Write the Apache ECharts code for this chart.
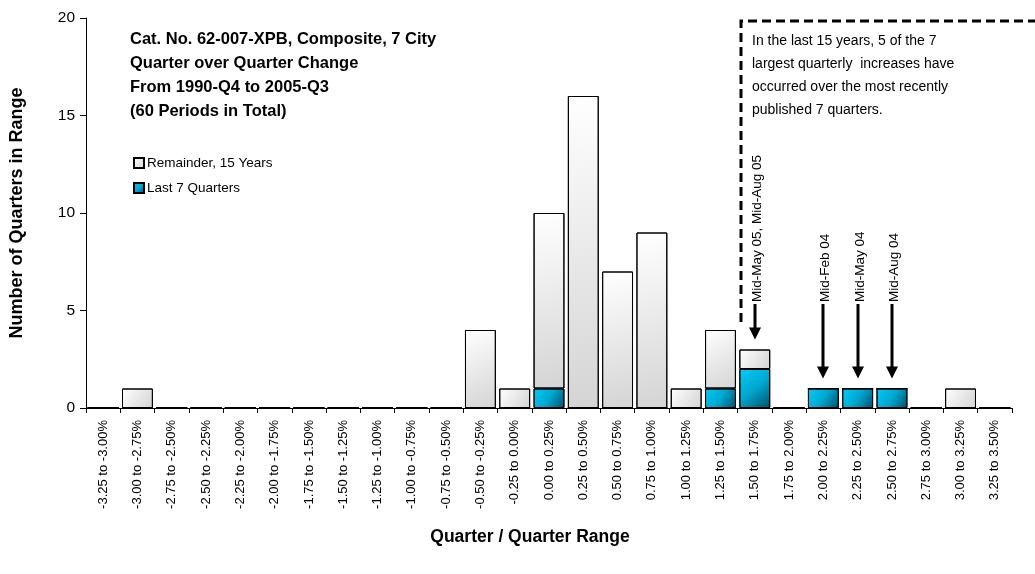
<!DOCTYPE html>
<html>
<head>
<meta charset="utf-8">
<script src="https://cdn.jsdelivr.net/npm/echarts@6/dist/echarts.min.js"></script>
<style>
  html, body { margin: 0; padding: 0; background: #fff; }
  #chart { width: 1035px; height: 574px; }
</style>
</head>
<body>
<div id="chart"></div>
<script>
// Quarter-over-quarter change ranges (x axis categories)
const categories = [
  '-3.25 to -3.00%', '-3.00 to -2.75%', '-2.75 to -2.50%', '-2.50 to -2.25%',
  '-2.25 to -2.00%', '-2.00 to -1.75%', '-1.75 to -1.50%', '-1.50 to -1.25%',
  '-1.25 to -1.00%', '-1.00 to -0.75%', '-0.75 to -0.50%', '-0.50 to -0.25%',
  '-0.25 to 0.00%', '0.00 to 0.25%', '0.25 to 0.50%', '0.50 to 0.75%',
  '0.75 to 1.00%', '1.00 to 1.25%', '1.25 to 1.50%', '1.50 to 1.75%',
  '1.75 to 2.00%', '2.00 to 2.25%', '2.25 to 2.50%', '2.50 to 2.75%',
  '2.75 to 3.00%', '3.00 to 3.25%', '3.25 to 3.50%'
];

// Quarters falling in each range over the most recent 7 quarters
const last7Quarters = [0,0,0,0,0,0,0,0,0,0,0,0,0,1,0,0,0,0,1,2,0,1,1,1,0,0,0];

// Quarters falling in each range over the rest of the 15 years
const remainder15Years = [0,1,0,0,0,0,0,0,0,0,0,4,1,9,16,7,9,1,3,1,0,0,0,0,0,1,0];

// y axis ticks
const yTicks = [0, 5, 10, 15, 20];

// Arrow callouts: category the arrow points at, and its label
const callouts = [
  { category: '1.50 to 1.75%', label: 'Mid-May 05, Mid-Aug 05' },
  { category: '2.00 to 2.25%', label: 'Mid-Feb 04' },
  { category: '2.25 to 2.50%', label: 'Mid-May 04' },
  { category: '2.50 to 2.75%', label: 'Mid-Aug 04' }
];

const titleLines = [
  'Cat. No. 62-007-XPB, Composite, 7 City',
  'Quarter over Quarter Change',
  'From 1990-Q4 to 2005-Q3',
  '(60 Periods in Total)'
];

const noteLines = [
  'In the last 15 years, 5 of the 7',
  'largest quarterly  increases have',
  'occurred over the most recently',
  'published 7 quarters.'
];

const xAxisTitle = 'Quarter / Quarter Range';

const FONT = '"Liberation Sans", Arial, sans-serif';

const grayFill = new echarts.graphic.LinearGradient(0, 0, 1, 1, [
  { offset: 0, color: '#ffffff' },
  { offset: 1, color: '#d4d4d4' }
]);
const blueFill = new echarts.graphic.LinearGradient(0, 0, 1, 1, [
  { offset: 0, color: '#00ccf8' },
  { offset: 0.5, color: '#00a8d0' },
  { offset: 1, color: '#00506c' }
]);

const chart = echarts.init(document.getElementById('chart'), null, { renderer: 'canvas' });

const option = {
  animation: false,
  backgroundColor: '#ffffff',
  textStyle: { fontFamily: FONT },
  grid: { left: 86, right: 23, top: 18, bottom: 166, containLabel: false },
  legend: {
    orient: 'vertical',
    left: 128,
    top: 151,
    itemWidth: 10,
    itemHeight: 10,
    itemGap: 11,
    icon: 'rect',
    data: ['Remainder, 15 Years', 'Last 7 Quarters'],
    textStyle: { fontFamily: FONT, fontSize: 13.5, color: '#000', padding: [0, 0, 0, -2] }
  },
  xAxis: {
    type: 'category',
    data: categories,
    axisLine: { lineStyle: { color: '#000', width: 1 } },
    axisTick: { show: true, alignWithLabel: false, length: 5, lineStyle: { color: '#000' } },
    axisLabel: {
      rotate: 90,
      interval: 0,
      margin: 12,
      fontFamily: FONT,
      fontSize: 13,
      color: '#000'
    }
  },
  yAxis: {
    type: 'value',
    min: yTicks[0],
    max: yTicks[yTicks.length - 1],
    interval: yTicks[1] - yTicks[0],
    name: 'Number of Quarters in Range',
    nameLocation: 'middle',
    nameGap: 60,
    nameTextStyle: { fontFamily: FONT, fontSize: 18, fontWeight: 'bold', color: '#000', padding: [0, 0, 0, 0] },
    axisLine: { show: true, lineStyle: { color: '#000', width: 1 } },
    axisTick: { show: true, length: 6, lineStyle: { color: '#000' } },
    splitLine: { show: false },
    axisLabel: { fontFamily: FONT, fontSize: 15.5, color: '#000', margin: 11 }
  },
  series: [
    {
      name: 'Last 7 Quarters',
      type: 'bar',
      stack: 'total',
      data: last7Quarters,
      barCategoryGap: '10%',
      itemStyle: { color: blueFill, borderColor: '#000', borderWidth: 1 }
    },
    {
      name: 'Remainder, 15 Years',
      type: 'bar',
      stack: 'total',
      data: remainder15Years,
      barCategoryGap: '10%',
      itemStyle: { color: grayFill, borderColor: '#000', borderWidth: 1 }
    }
  ]
};

chart.setOption(option);

// Annotations placed using the chart's own scales
const graphics = [];

titleLines.forEach((t, i) => {
  graphics.push({
    type: 'text', left: 130, top: 31 + i * 24,
    style: { text: t, font: 'bold 16.5px ' + FONT, fill: '#000' }
  });
});

// x axis title
graphics.push({
  type: 'text', x: 530, y: 537,
  style: {
    text: xAxisTitle, font: 'bold 17.5px ' + FONT, fill: '#000',
    textAlign: 'center', textVerticalAlign: 'middle'
  }
});

noteLines.forEach((t, i) => {
  graphics.push({
    type: 'text', left: 752, top: 34 + i * 23,
    style: { text: t, font: '14px ' + FONT, fill: '#000' }
  });
});

// dashed box around the note (top and left edges)
graphics.push({
  type: 'polyline',
  shape: { points: [[741, 322], [741, 21], [1035, 21]] },
  style: { stroke: '#000', lineWidth: 3, lineDash: [9, 5], fill: null }
});

callouts.forEach(c => {
  const idx = categories.indexOf(c.category);
  const total = last7Quarters[idx] + remainder15Years[idx];
  const top = chart.convertToPixel({ gridIndex: 0 }, [idx, total]);
  const x = Math.round(top[0]);
  const tipY = top[1] - 10;
  const startY = 304;
  graphics.push({
    type: 'line',
    shape: { x1: x, y1: startY, x2: x, y2: tipY - 10 },
    style: { stroke: '#000', lineWidth: 3 }
  });
  graphics.push({
    type: 'polygon',
    shape: { points: [[x - 6, tipY - 12], [x + 6, tipY - 12], [x, tipY]] },
    style: { fill: '#000' }
  });
  graphics.push({
    type: 'text',
    x: x + 2, y: startY - 2,
    rotation: Math.PI / 2,
    style: {
      text: c.label, font: '13.5px ' + FONT, fill: '#000',
      textAlign: 'left', textVerticalAlign: 'middle'
    }
  });
});

chart.setOption({ graphic: graphics });
</script>
</body>
</html>
